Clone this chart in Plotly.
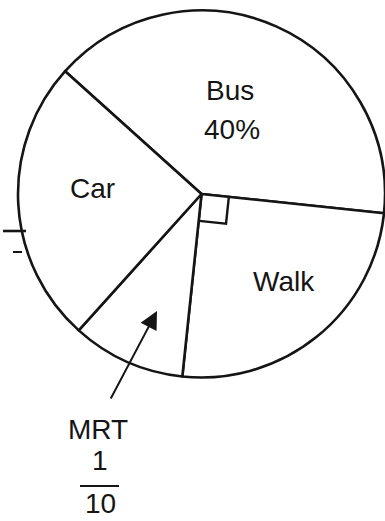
import math
import plotly.graph_objects as go

# Transport modes and their shares (percent)
modes = ["Bus", "Walk", "MRT", "Car"]
shares = [40, 25, 10, 25]
start_angle = 312  # degrees clockwise from 12 o'clock where "Bus" begins

W, H = 385, 521
cx, cy, r = 202, 194, 184  # pie centre and radius in pixels

font = "Liberation Sans, Arial, sans-serif"
ink = "#151515"

fig = go.Figure()

# hidden pixel-space axes used to place shapes and labels
fig.add_trace(go.Scatter(x=[0, W], y=[0, H], mode="markers",
                         marker=dict(opacity=0), hoverinfo="skip", showlegend=False))

fig.add_trace(go.Pie(
    labels=modes, values=shares, sort=False, direction="clockwise",
    rotation=start_angle, textinfo="none", hoverinfo="label+percent",
    marker=dict(colors=["white"] * len(modes), line=dict(color=ink, width=2.6)),
    domain=dict(x=[(cx - r) / W, min(1, (cx + r) / W)],
                y=[1 - (cy + r) / H, 1 - (cy - r) / H]),
    showlegend=False,
))

# boundary angles of the Walk slice -> right-angle marker
total = sum(shares)
a0 = start_angle + 360 * shares[0] / total
a1 = a0 + 360 * shares[1] / total
def unit(a):
    t = math.radians(a)
    return math.sin(t), -math.cos(t)
u, v = unit(a0), unit(a1)
s = 27
p1 = (cx + s * u[0], cy + s * u[1])
p2 = (p1[0] + s * v[0], p1[1] + s * v[1])
p3 = (cx + s * v[0], cy + s * v[1])
fig.add_shape(type="path", xref="x", yref="y",
              path=f"M{p1[0]},{p1[1]} L{p2[0]},{p2[1]} L{p3[0]},{p3[1]}",
              line=dict(color=ink, width=2.4))

# small stray ticks at the left edge
fig.add_shape(type="line", xref="x", yref="y", x0=3, y0=231, x1=26, y1=231,
              line=dict(color=ink, width=2.6))
fig.add_shape(type="line", xref="x", yref="y", x0=13, y0=252, x1=22, y1=252,
              line=dict(color=ink, width=2))

def label(text, x, y, size=28):
    fig.add_annotation(x=x, y=y, xref="x", yref="y", text=text, showarrow=False,
                       xanchor="center", yanchor="middle",
                       font=dict(family=font, size=size, color=ink))

label("Bus", 230, 90)
label(f"{shares[0]}%", 232, 129)
label("Car", 92, 188)
label("Walk", 284, 281)
label("MRT", 98, 429)
label("1", 100, 460)
label("10", 100, 503)

# fraction bar under the MRT numerator
fig.add_shape(type="line", xref="x", yref="y", x0=80, y0=486, x1=119, y1=486,
              line=dict(color=ink, width=2))

# arrow pointing into the MRT slice
fig.add_annotation(x=157, y=311, ax=110, ay=400, xref="x", yref="y",
                   axref="x", ayref="y", text="", showarrow=True,
                   arrowhead=2, arrowsize=1.8, arrowwidth=2, arrowcolor=ink)

fig.update_layout(
    width=W, height=H, margin=dict(l=0, r=0, t=0, b=0),
    paper_bgcolor="white", plot_bgcolor="rgba(0,0,0,0)",
    xaxis=dict(range=[0, W], visible=False, fixedrange=True),
    yaxis=dict(range=[H, 0], visible=False, fixedrange=True),
)

fig.write_html("out.html")
